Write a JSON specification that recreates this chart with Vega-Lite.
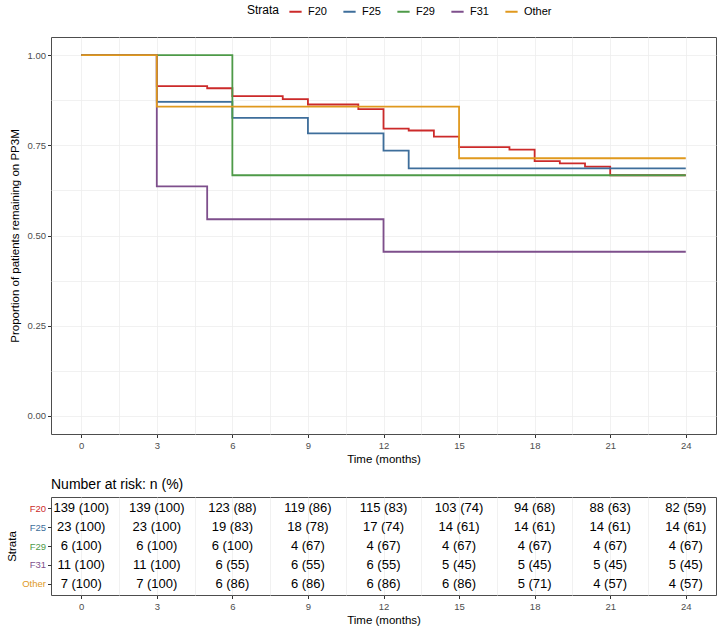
{
  "$schema": "https://vega.github.io/schema/vega-lite/v6.json",
  "padding": {"left": 6, "top": 4, "right": 5, "bottom": 4},
  "background": "white",
  "config": {
    "font": "Liberation Sans",
    "view": {"stroke": "#4D4D4D", "strokeWidth": 1},
    "axis": {
      "labelFont": "Liberation Sans", "titleFont": "Liberation Sans",
      "labelColor": "#4D4D4D", "labelFontSize": 9.5,
      "titleColor": "#000000", "titleFontSize": 11.5, "titleFontWeight": "normal",
      "tickColor": "#333333", "tickSize": 3.5, "domain": false,
      "gridColor": "#EEEEEE", "gridWidth": 0.8
    }
  },
  "datasets": {
    "km": [
      {"strata": "F20", "time": 0, "surv": 1},
      {"strata": "F20", "time": 3, "surv": 0.914},
      {"strata": "F20", "time": 5, "surv": 0.908},
      {"strata": "F20", "time": 6, "surv": 0.886},
      {"strata": "F20", "time": 8, "surv": 0.878},
      {"strata": "F20", "time": 9, "surv": 0.863},
      {"strata": "F20", "time": 11, "surv": 0.85},
      {"strata": "F20", "time": 12, "surv": 0.796},
      {"strata": "F20", "time": 13, "surv": 0.791},
      {"strata": "F20", "time": 14, "surv": 0.774},
      {"strata": "F20", "time": 15, "surv": 0.745},
      {"strata": "F20", "time": 17, "surv": 0.738},
      {"strata": "F20", "time": 18, "surv": 0.706},
      {"strata": "F20", "time": 19, "surv": 0.7},
      {"strata": "F20", "time": 20, "surv": 0.691},
      {"strata": "F20", "time": 21, "surv": 0.667},
      {"strata": "F20", "time": 24, "surv": 0.667},
      {"strata": "F25", "time": 0, "surv": 1},
      {"strata": "F25", "time": 3, "surv": 0.87},
      {"strata": "F25", "time": 6, "surv": 0.826},
      {"strata": "F25", "time": 9, "surv": 0.783},
      {"strata": "F25", "time": 12, "surv": 0.735},
      {"strata": "F25", "time": 13, "surv": 0.686},
      {"strata": "F25", "time": 24, "surv": 0.686},
      {"strata": "F29", "time": 0, "surv": 1},
      {"strata": "F29", "time": 6, "surv": 0.667},
      {"strata": "F29", "time": 24, "surv": 0.667},
      {"strata": "F31", "time": 0, "surv": 1},
      {"strata": "F31", "time": 3, "surv": 0.636},
      {"strata": "F31", "time": 5, "surv": 0.545},
      {"strata": "F31", "time": 12, "surv": 0.455},
      {"strata": "F31", "time": 24, "surv": 0.455},
      {"strata": "Other", "time": 0, "surv": 1},
      {"strata": "Other", "time": 3, "surv": 0.857},
      {"strata": "Other", "time": 15, "surv": 0.714},
      {"strata": "Other", "time": 24, "surv": 0.714}
    ],
    "risk": [
      {"strata": "F20", "time": 0, "label": "139 (100)"},
      {"strata": "F20", "time": 3, "label": "139 (100)"},
      {"strata": "F20", "time": 6, "label": "123 (88)"},
      {"strata": "F20", "time": 9, "label": "119 (86)"},
      {"strata": "F20", "time": 12, "label": "115 (83)"},
      {"strata": "F20", "time": 15, "label": "103 (74)"},
      {"strata": "F20", "time": 18, "label": "94 (68)"},
      {"strata": "F20", "time": 21, "label": "88 (63)"},
      {"strata": "F20", "time": 24, "label": "82 (59)"},
      {"strata": "F25", "time": 0, "label": "23 (100)"},
      {"strata": "F25", "time": 3, "label": "23 (100)"},
      {"strata": "F25", "time": 6, "label": "19 (83)"},
      {"strata": "F25", "time": 9, "label": "18 (78)"},
      {"strata": "F25", "time": 12, "label": "17 (74)"},
      {"strata": "F25", "time": 15, "label": "14 (61)"},
      {"strata": "F25", "time": 18, "label": "14 (61)"},
      {"strata": "F25", "time": 21, "label": "14 (61)"},
      {"strata": "F25", "time": 24, "label": "14 (61)"},
      {"strata": "F29", "time": 0, "label": "6 (100)"},
      {"strata": "F29", "time": 3, "label": "6 (100)"},
      {"strata": "F29", "time": 6, "label": "6 (100)"},
      {"strata": "F29", "time": 9, "label": "4 (67)"},
      {"strata": "F29", "time": 12, "label": "4 (67)"},
      {"strata": "F29", "time": 15, "label": "4 (67)"},
      {"strata": "F29", "time": 18, "label": "4 (67)"},
      {"strata": "F29", "time": 21, "label": "4 (67)"},
      {"strata": "F29", "time": 24, "label": "4 (67)"},
      {"strata": "F31", "time": 0, "label": "11 (100)"},
      {"strata": "F31", "time": 3, "label": "11 (100)"},
      {"strata": "F31", "time": 6, "label": "6 (55)"},
      {"strata": "F31", "time": 9, "label": "6 (55)"},
      {"strata": "F31", "time": 12, "label": "6 (55)"},
      {"strata": "F31", "time": 15, "label": "5 (45)"},
      {"strata": "F31", "time": 18, "label": "5 (45)"},
      {"strata": "F31", "time": 21, "label": "5 (45)"},
      {"strata": "F31", "time": 24, "label": "5 (45)"},
      {"strata": "Other", "time": 0, "label": "7 (100)"},
      {"strata": "Other", "time": 3, "label": "7 (100)"},
      {"strata": "Other", "time": 6, "label": "6 (86)"},
      {"strata": "Other", "time": 9, "label": "6 (86)"},
      {"strata": "Other", "time": 12, "label": "6 (86)"},
      {"strata": "Other", "time": 15, "label": "6 (86)"},
      {"strata": "Other", "time": 18, "label": "5 (71)"},
      {"strata": "Other", "time": 21, "label": "4 (57)"},
      {"strata": "Other", "time": 24, "label": "4 (57)"}
    ]
  },
  "spacing": 12,
  "vconcat": [
    {
      "width": 665,
      "height": 397,
      "data": {"name": "km"},
      "encoding": {
        "x": {
          "field": "time", "type": "quantitative",
          "scale": {"domain": [-1.2, 25.2], "nice": false, "zero": false},
          "axis": {
            "title": "Time (months)", "titlePadding": 3,
            "values": [0, 1.5, 3, 4.5, 6, 7.5, 9, 10.5, 12, 13.5, 15, 16.5, 18, 19.5, 21, 22.5, 24],
            "labelExpr": "datum.value % 3 === 0 ? format(datum.value, 'd') : ''",
            "tickOpacity": {"condition": {"test": "datum.value % 3 === 0", "value": 1}, "value": 0},
            "labelPadding": 3
          }
        },
        "y": {
          "field": "surv", "type": "quantitative",
          "scale": {"domain": [-0.05, 1.05], "nice": false, "zero": false},
          "axis": {
            "title": "Proportion of patients remaining on PP3M", "titlePadding": 7,
            "values": [0, 0.125, 0.25, 0.375, 0.5, 0.625, 0.75, 0.875, 1],
            "labelExpr": "datum.value * 4 % 1 === 0 ? format(datum.value, '.2f') : ''",
            "tickOpacity": {"condition": {"test": "datum.value * 4 % 1 === 0", "value": 1}, "value": 0},
            "labelPadding": 2
          }
        },
        "color": {
          "field": "strata", "type": "nominal",
          "scale": {
            "domain": ["F20", "F25", "F29", "F31", "Other"],
            "range": ["#CC2A2A", "#3E6E9B", "#4E9A48", "#7E4F8C", "#E0991E"]
          },
          "legend": {
            "orient": "none", "legendX": 196, "legendY": -33,
            "direction": "horizontal", "title": "Strata", "titleOrient": "left",
            "titleFontSize": 12, "titleFontWeight": "normal", "titleColor": "#000000",
            "titlePadding": 8,
            "labelFontSize": 11, "labelColor": "#000000", "labelOffset": 5,
            "symbolType": "stroke", "symbolSize": 150, "symbolStrokeWidth": 2,
            "columnPadding": 12
          }
        }
      },
      "layer": [
        {"transform": [{"filter": "datum.strata === 'F20'"}], "mark": {"type": "line", "interpolate": "step-after", "strokeWidth": 1.8}},
        {"transform": [{"filter": "datum.strata === 'F25'"}], "mark": {"type": "line", "interpolate": "step-after", "strokeWidth": 1.8}},
        {"transform": [{"filter": "datum.strata === 'F29'"}], "mark": {"type": "line", "interpolate": "step-after", "strokeWidth": 1.8}},
        {"transform": [{"filter": "datum.strata === 'F31'"}], "mark": {"type": "line", "interpolate": "step-after", "strokeWidth": 1.8}},
        {"transform": [{"filter": "datum.strata === 'Other'"}], "mark": {"type": "line", "interpolate": "step-after", "strokeWidth": 1.8}}
      ]
    },
    {
      "width": 665,
      "height": 98,
      "title": {
        "text": "Number at risk: n (%)", "anchor": "start", "frame": "group",
        "fontSize": 14, "fontWeight": "normal", "color": "#000000", "offset": 5
      },
      "data": {"name": "risk"},
      "mark": {"type": "text", "fontSize": 13, "color": "#000000"},
      "encoding": {
        "x": {
          "field": "time", "type": "quantitative",
          "scale": {"domain": [-1.2, 25.2], "nice": false, "zero": false},
          "axis": {
            "title": "Time (months)", "titlePadding": 3,
            "values": [0, 1.5, 3, 4.5, 6, 7.5, 9, 10.5, 12, 13.5, 15, 16.5, 18, 19.5, 21, 22.5, 24],
            "labelExpr": "datum.value % 3 === 0 ? format(datum.value, 'd') : ''",
            "tickOpacity": {"condition": {"test": "datum.value % 3 === 0", "value": 1}, "value": 0},
            "labelPadding": 3
          }
        },
        "y": {
          "field": "strata", "type": "nominal",
          "scale": {"type": "point", "padding": 0.6, "domain": ["F20", "F25", "F29", "F31", "Other"]},
          "axis": {
            "title": "Strata", "titlePadding": 4, "labelPadding": 2,
            "labelColor": {
              "condition": [
                {"test": "datum.value === 'F20'", "value": "#CC2A2A"},
                {"test": "datum.value === 'F25'", "value": "#3E6E9B"},
                {"test": "datum.value === 'F29'", "value": "#4E9A48"},
                {"test": "datum.value === 'F31'", "value": "#7E4F8C"}
              ],
              "value": "#E0991E"
            }
          }
        },
        "text": {"field": "label", "type": "nominal"}
      }
    }
  ]
}
